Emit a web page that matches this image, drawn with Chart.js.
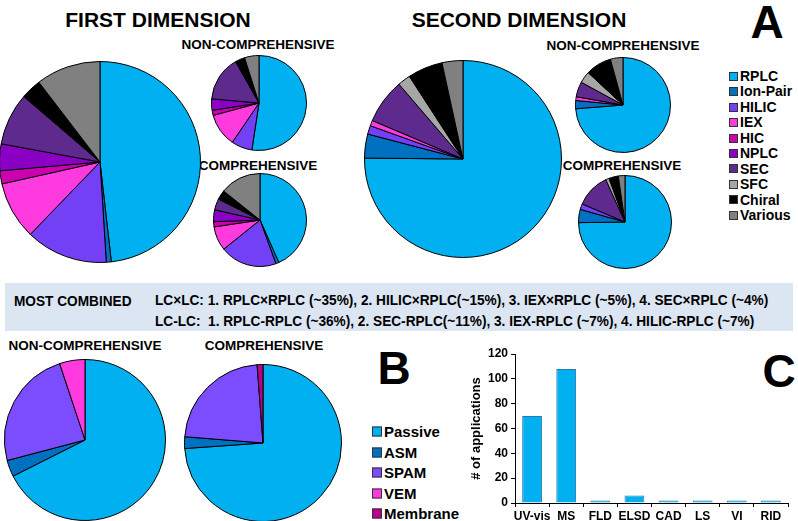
<!DOCTYPE html>
<html>
<head>
<meta charset="utf-8">
<script src="https://cdn.jsdelivr.net/npm/chart.js@4.4.0/dist/chart.umd.min.js"></script>
<style>
body { margin: 0; background: #fff; }
#wrap { position: relative; width: 798px; height: 521px; overflow: hidden;
  font-family: "Liberation Sans", Arial, sans-serif; font-weight: bold; color: #000; }
.t { position: absolute; white-space: pre; transform: translate(-50%, -50%); line-height: 1; }
.l { position: absolute; white-space: pre; transform: translateY(-50%); line-height: 1; }
canvas { position: absolute; }
#box { position: absolute; left: 5px; top: 283px; width: 788px; height: 48px; background: #dce6f2; }
.narrow { font-size: 15px; transform: translateY(-50%) scaleX(0.91); transform-origin: left center; }
.leg span { display: inline-block; box-sizing: border-box; border: 1px solid #333; vertical-align: middle; }
</style>
</head>
<body>
<div id="wrap">
  <div class="t" style="left:158px;top:19px;font-size:21px">FIRST DIMENSION</div>
  <div class="t" style="left:519px;top:19px;font-size:21px">SECOND DIMENSION</div>
  <div class="t" style="left:767px;top:22px;font-size:46px">A</div>
  <div class="t" style="left:258px;top:45px;font-size:13.5px">NON-COMPREHENSIVE</div>
  <div class="t" style="left:258px;top:166px;font-size:13.5px">COMPREHENSIVE</div>
  <div class="t" style="left:623px;top:46px;font-size:13.5px">NON-COMPREHENSIVE</div>
  <div class="t" style="left:622px;top:166px;font-size:13.5px">COMPREHENSIVE</div>

  <div id="box"></div>
  <div class="l narrow" style="left:14px;top:300px">MOST COMBINED</div>
  <div class="l narrow" style="left:155px;top:299px">LC×LC: 1. RPLC×RPLC (~35%), 2. HILIC×RPLC(~15%), 3. IEX×RPLC (~5%), 4. SEC×RPLC (~4%)</div>
  <div class="l narrow" style="left:155px;top:320px">LC-LC:  1. RPLC-RPLC (~36%), 2. SEC-RPLC(~11%), 3. IEX-RPLC (~7%), 4. HILIC-RPLC (~7%)</div>

  <div class="t" style="left:85px;top:346px;font-size:13.5px">NON-COMPREHENSIVE</div>
  <div class="t" style="left:264px;top:346px;font-size:13.5px">COMPREHENSIVE</div>
  <div class="t" style="left:394px;top:368px;font-size:46px">B</div>
  <div class="t" style="left:779px;top:371px;font-size:46px">C</div>
</div>
<script>
// panel A: separation modes, % of applications
const dimLabels = ['RPLC', 'Ion-Pair', 'HILIC', 'IEX', 'HIC', 'NPLC', 'SEC', 'SFC', 'Chiral', 'Various'];
const firstAll     = [48.2, 0.8, 13.2, 9.3, 2.1, 4.3, 8.4, 0, 3.3, 10.4];
const firstNonComp = [52.4, 0, 7.1, 11.3, 1.7, 3.9, 15.4, 0, 3.3, 4.9];
const firstComp    = [43.4, 1.1, 19.8, 8.4, 1.8, 4.1, 3.9, 0, 3.3, 14.3];
const secondAll     = [74.7, 3.9, 1.4, 0.9, 0, 0, 7.3, 2.1, 5.7, 3.4];
const secondNonComp = [74.4, 2.8, 0, 1.3, 0, 0, 5.2, 4.0, 8.9, 4.3];
const secondComp    = [75.0, 4.6, 2.0, 0, 0, 0, 11.9, 1.2, 3.3, 2.3];

// panel B: modulation
const modLabels = ['Passive', 'ASM', 'SPAM', 'VEM', 'Membrane'];
const modNonComp = [67.6, 3.3, 24.0, 5.1, 0];
const modComp    = [73.8, 2.4, 22.5, 0, 1.2];

// panel C: detectors
const detLabels = ['UV-vis', 'MS', 'FLD', 'ELSD', 'CAD', 'LS', 'VI', 'RID'];
const detCounts = [70, 108, 2, 6, 2, 2, 2, 2];

const dimColors = ['#00b0f0', '#0070c0', '#7340f5', '#ff3ade', '#cc00b0', '#8a00c4', '#5e2a8e', '#a6a6a6', '#000000', '#808080'];
const modColors = ['#00b0f0', '#0070c0', '#7b4dff', '#ff3ade', '#b8008f'];

const wrap = document.getElementById('wrap');

function makePie(data, colors, cx, cy, r) {
    var size = 2 * r + 2;
    var c = document.createElement('canvas');
    c.width = size;
    c.height = size;
    c.style.left = (cx - size / 2) + 'px';
    c.style.top = (cy - size / 2) + 'px';
    wrap.appendChild(c);
    new Chart(c.getContext('2d'), {
        type: 'pie',
        data: {
            labels: data.map(function(v, i) { return i; }),
            datasets: [{
                data: data,
                backgroundColor: colors,
                borderColor: '#000',
                borderWidth: 1
            }]
        },
        options: {
            responsive: false,
            animation: false,
            layout: { padding: 0 },
            plugins: { legend: { display: false }, tooltip: { enabled: false } }
        }
    });
}

makePie(firstAll, dimColors, 100, 162, 100);
makePie(firstNonComp, dimColors, 259, 103, 47);
makePie(firstComp, dimColors, 260, 220, 46);
makePie(secondAll, dimColors, 463, 159, 98);
makePie(secondNonComp, dimColors, 623, 105, 47);
makePie(secondComp, dimColors, 625, 222, 46);
makePie(modNonComp, modColors, 85, 440, 80);
makePie(modComp, modColors, 263, 443, 78);

function makeLegend(labels, colors, x, y0, step, fontSize, boxSize) {
    labels.forEach(function(lab, i) {
        var d = document.createElement('div');
        d.className = 'l leg';
        d.style.left = x + 'px';
        d.style.top = (y0 + i * step) + 'px';
        d.style.fontSize = fontSize + 'px';
        d.innerHTML = '<span style="width:' + boxSize + 'px;height:' + boxSize + 'px;background:' + colors[i] +
            ';margin-right:2px;margin-top:-2px"></span>' + lab;
        wrap.appendChild(d);
    });
}
makeLegend(dimLabels, dimColors, 729, 76, 15.45, 14, 9);
makeLegend(modLabels, modColors, 372, 431, 20.6, 15, 10);

// bar chart
var bc = document.createElement('canvas');
bc.width = 337;
bc.height = 181;
bc.style.left = '458px';
bc.style.top = '340px';
wrap.appendChild(bc);
new Chart(bc.getContext('2d'), {
    type: 'bar',
    data: {
        labels: detLabels,
        datasets: [{
            data: detCounts,
            backgroundColor: '#00b0f0',
            borderColor: '#2a79ad',
            borderWidth: 1,
            categoryPercentage: 1,
            barPercentage: 0.58
        }]
    },
    options: {
        responsive: false,
        animation: false,
        layout: { padding: { left: 7, right: 7, top: 14, bottom: 0 } },
        plugins: { legend: { display: false }, tooltip: { enabled: false } },
        scales: {
            x: {
                afterFit: function(s) { s.height = 18; },
                grid: { drawOnChartArea: false, tickLength: 4, color: '#000' },
                border: { color: '#000' },
                ticks: { color: '#000', padding: 2, maxRotation: 0, minRotation: 0, autoSkip: false,
                    font: { family: 'Liberation Sans', size: 12, weight: 'bold' } }
            },
            y: {
                min: 0,
                max: 120,
                afterFit: function(s) { s.width = 50; },
                grid: { drawOnChartArea: false, tickLength: 4, color: '#000' },
                border: { color: '#000' },
                ticks: { stepSize: 20, color: '#000', padding: 3, font: { family: 'Liberation Sans', size: 12, weight: 'bold' } },
                title: {
                    display: true,
                    text: '# of applications',
                    color: '#000',
                    padding: { top: 4, bottom: 0 },
                    font: { family: 'Liberation Sans', size: 13, weight: 'bold' }
                }
            }
        }
    }
});
</script>
</body>
</html>
